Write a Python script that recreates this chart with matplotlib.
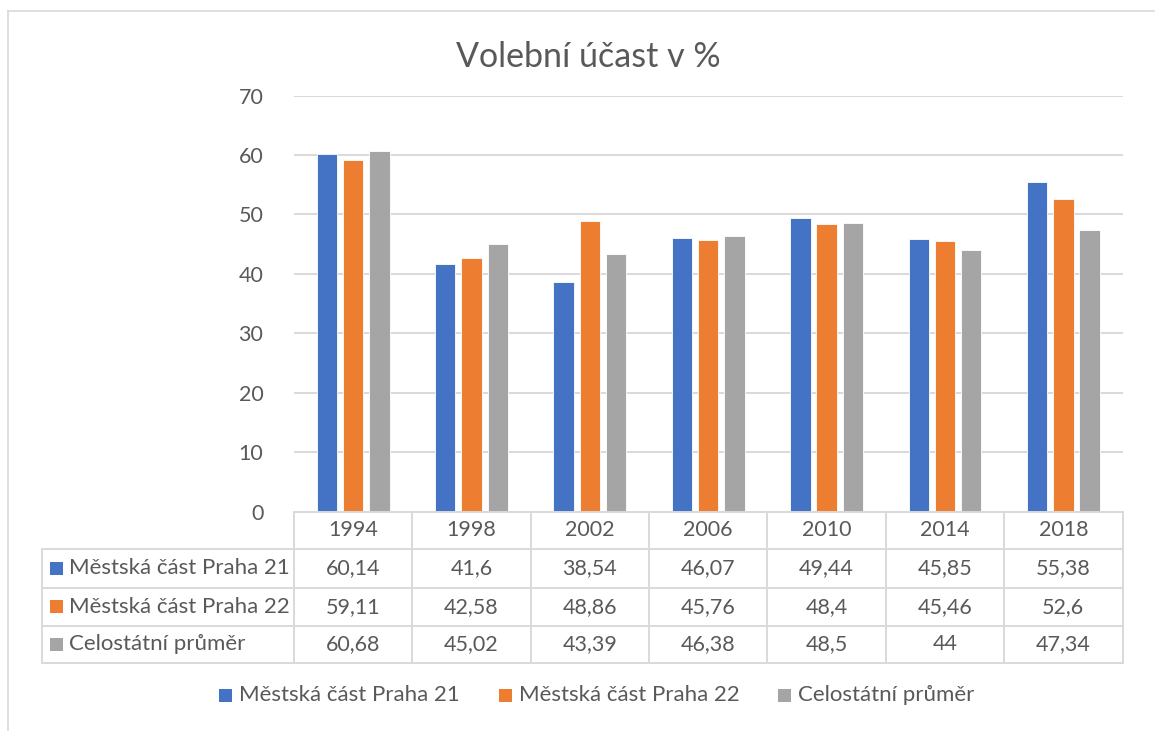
import matplotlib
matplotlib.use("Agg")
import matplotlib.pyplot as plt
from matplotlib.patches import Rectangle
from matplotlib.lines import Line2D
import numpy as np

years = ["1994", "1998", "2002", "2006", "2010", "2014", "2018"]
series_names = ["Městská část Praha 21", "Městská část Praha 22", "Celostátní průměr"]
praha21 = [60.14, 41.6, 38.54, 46.07, 49.44, 45.85, 55.38]
praha22 = [59.11, 42.58, 48.86, 45.76, 48.4, 45.46, 52.6]
celostatni = [60.68, 45.02, 43.39, 46.38, 48.5, 44, 47.34]
table_labels = [
    ["60,14", "41,6", "38,54", "46,07", "49,44", "45,85", "55,38"],
    ["59,11", "42,58", "48,86", "45,76", "48,4", "45,46", "52,6"],
    ["60,68", "45,02", "43,39", "46,38", "48,5", "44", "47,34"],
]
yticks = [0, 10, 20, 30, 40, 50, 60, 70]
title = "Volební účast v %"

colors = ["#4472C4", "#ED7D31", "#A5A5A5"]
text_color = "#595959"
grid_color = "#D9D9D9"
FONT = "Lato"

W, H = 1155, 731
fig = plt.figure(figsize=(W / 100, H / 100), dpi=100)
plt.rcParams["font.family"] = [FONT, "DejaVu Sans"]

def fx(x):
    return x / W

def fy(y):
    return 1 - y / H

# plot area in pixels
L, R, T, B = 294, 1122.5, 95.5, 511.5
ax = fig.add_axes([fx(L), fy(B), fx(R) - fx(L), fy(T) - fy(B)])

series = [praha21, praha22, celostatni]
x = np.arange(len(years))
offset = 0.2215
width = 0.172
for i, (vals, c) in enumerate(zip(series, colors)):
    ax.bar(x + (i - 1) * offset, vals, width=width, color=c, edgecolor="white",
           linewidth=0.6, zorder=3)

ax.set_xlim(-0.5, len(years) - 0.5)
ax.set_ylim(0, 70)
ax.set_yticks(yticks)
ax.set_yticklabels([str(v) for v in yticks])
ax.tick_params(axis="y", length=0, pad=22, labelsize=15.5, labelcolor=text_color)
ax.set_xticks([])
ax.grid(axis="y", color=grid_color, linewidth=1.4, zorder=0)
for s in ax.spines.values():
    s.set_visible(False)

# outer chart border (top and left visible)
fig.add_artist(Line2D([fx(8), fx(W)], [fy(11), fy(11)], color="#D9D9D9", lw=1.2))
fig.add_artist(Line2D([fx(8), fx(8)], [fy(11), fy(H)], color="#D9D9D9", lw=1.2))

# title
fig.text(fx(588), fy(57), title, ha="center", va="center", fontsize=24.5,
         color=text_color)

# data table
col_w = (R - L) / len(years)
row_lines = [B, 548.5, 587.5, 626.0, 663.0]
row_centers = [(row_lines[k] + row_lines[k + 1]) / 2 for k in range(4)]
left_x = 42
tc = "#D9D9D9"
lw = 1.4
fig.add_artist(Line2D([fx(L), fx(R)], [fy(B), fy(B)], color=tc, lw=lw))
for yl in row_lines[1:]:
    fig.add_artist(Line2D([fx(left_x), fx(R)], [fy(yl), fy(yl)], color=tc, lw=lw))
fig.add_artist(Line2D([fx(left_x), fx(left_x)], [fy(row_lines[1]), fy(row_lines[-1])],
                      color=tc, lw=lw))
for k in range(len(years) + 1):
    xl = L + k * col_w
    fig.add_artist(Line2D([fx(xl), fx(xl)], [fy(B), fy(row_lines[-1])], color=tc, lw=lw))

for k, yr in enumerate(years):
    cx = L + (k + 0.5) * col_w
    fig.text(fx(cx), fy(row_centers[0]), yr, ha="center", va="center",
             fontsize=15.5, color=text_color)
    for r in range(3):
        fig.text(fx(cx), fy(row_centers[r + 1]), table_labels[r][k], ha="center",
                 va="center", fontsize=15.5, color=text_color)

for r in range(3):
    cy = row_centers[r + 1]
    fig.add_artist(Rectangle((fx(50), fy(cy + 6.5)), fx(13), 13 / H,
                             facecolor=colors[r], edgecolor="none",
                             transform=fig.transFigure))
    fig.text(fx(69), fy(cy), series_names[r], ha="left", va="center",
             fontsize=16, color=text_color)

# bottom legend
leg_x = [219, 499, 778]
leg_y = 695
for r in range(3):
    fig.add_artist(Rectangle((fx(leg_x[r]), fy(leg_y + 6.5)), fx(13), 13 / H,
                             facecolor=colors[r], edgecolor="none",
                             transform=fig.transFigure))
    fig.text(fx(leg_x[r] + 20), fy(leg_y), series_names[r], ha="left", va="center",
             fontsize=16, color=text_color)

fig.savefig("out.png", dpi=100, facecolor="white")
